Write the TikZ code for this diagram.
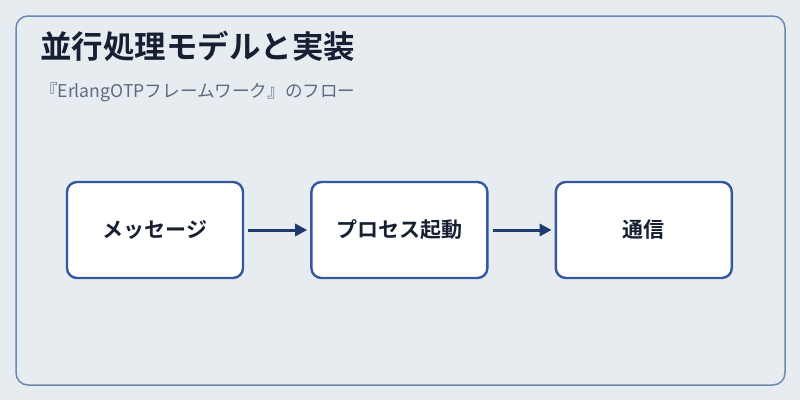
\documentclass[tikz,border=0pt]{standalone}
\usepackage{fontspec}
\setmainfont{Noto Sans CJK JP}
\newfontfamily\cjkbold{Noto Sans CJK JP Bold}
\usepackage{xcolor}
\usetikzlibrary{arrows.meta,positioning}

\definecolor{bgpanel}{HTML}{E7ECF1}
\definecolor{frameline}{HTML}{6E88B2}
\definecolor{boxline}{HTML}{3457A0}
\definecolor{flowarrow}{HTML}{1F3A6D}
\definecolor{titleink}{HTML}{172033}
\definecolor{subink}{HTML}{5A6B82}

\tikzset{
  stepbox/.style={draw=boxline, line width=2.4pt, fill=white, rounded corners=10pt,
    minimum width=176pt, minimum height=96pt, font=\cjkbold\fontsize{21pt}{24pt}\selectfont,
    text=titleink},
  flow/.style={-{Triangle[length=12pt,width=12pt]}, line width=3pt, draw=flowarrow,
    shorten <=4pt, shorten >=3pt}
}

\begin{document}
\begin{tikzpicture}[x=1pt,y=-1pt]
  % background and outer frame
  \fill[bgpanel] (0,0) rectangle (800,400);
  \useasboundingbox (0,0) rectangle (800,400);
  \draw[frameline, line width=1.5pt, rounded corners=12pt] (16,16) rectangle (785,385);

  % heading
  \node[anchor=base west, inner sep=0pt, text=titleink, font=\cjkbold\fontsize{31.5pt}{36pt}\selectfont]
    (title) at (40,58) {並行処理モデルと実装};
  \node[anchor=base west, inner sep=0pt, text=subink, font=\fontsize{17.6pt}{21pt}\selectfont]
    (subtitle) at (40,97) {『ErlangOTPフレームワーク』のフロー};

  % flow steps
  \node[stepbox] (msg) at (155,230) {メッセージ};
  \node[stepbox, right=66pt of msg] (spawn) {プロセス起動};
  \node[stepbox, right=66pt of spawn] (comm) {通信};

  % connectors
  \draw[flow] (msg) -- (spawn);
  \draw[flow] (spawn) -- (comm);
\end{tikzpicture}
\end{document}
